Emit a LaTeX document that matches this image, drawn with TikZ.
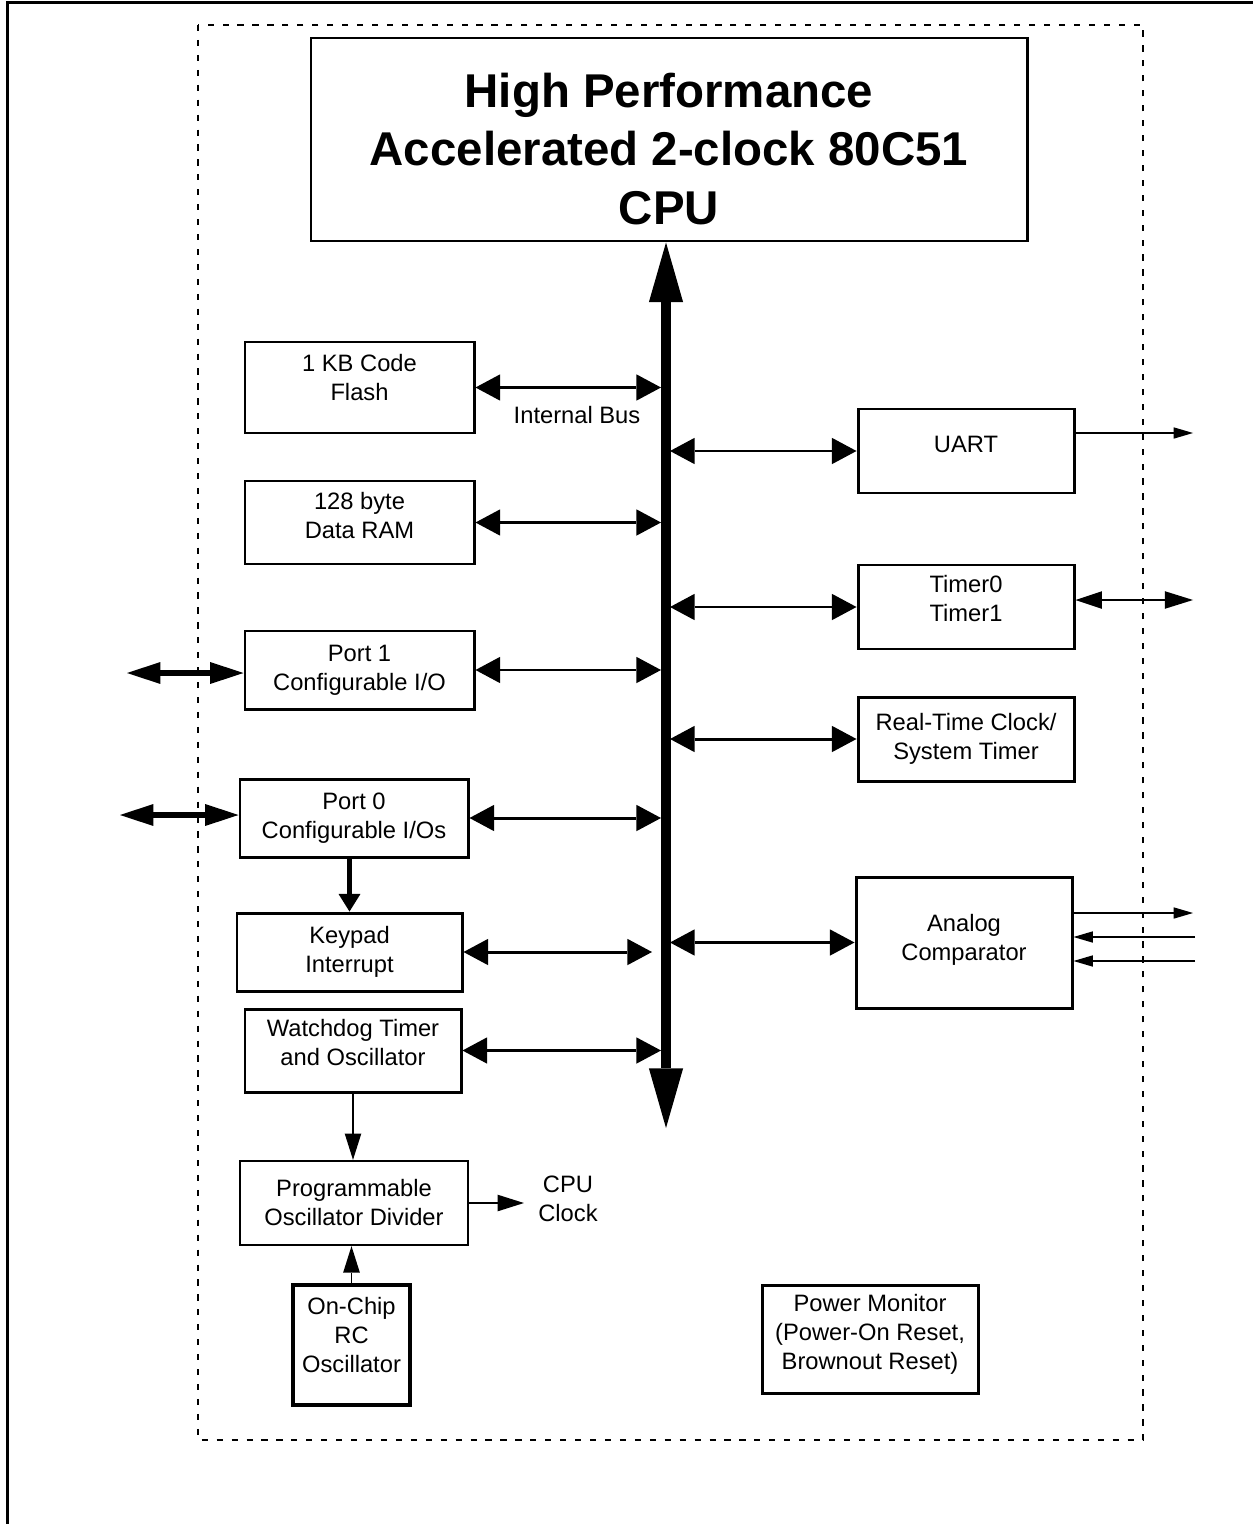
\documentclass[tikz,border=0pt]{standalone}
\usepackage{fontspec}
\setmainfont{Liberation Sans}
\usetikzlibrary{arrows.meta}

\begin{document}
\begin{tikzpicture}[x=0.02cm,y=-0.02cm]
\def \busx {666}
\useasboundingbox (0,0) rectangle (1253,1524);
   \tikzset{BlockStyle/.style = {draw, line width=1.7pt, align=center, inner sep=2pt,
      font=\fontsize{13.5}{16.5}\selectfont}}
   \tikzset{BlockSize/.style 2 args = {minimum width=#1*0.02cm, minimum height=#2*0.02cm}}
   \tikzset{BusStyle/.style = {line width=6pt,
      {Triangle[length=34pt,width=19.5pt,line width=0pt]}-{Triangle[length=34pt,width=19.5pt,line width=0pt]}}}
   \tikzset{BusLink/.style = {line width=1.7pt,
      {Triangle[length=14pt,width=15pt,line width=0pt]}-{Triangle[length=14pt,width=15pt,line width=0pt]}}}
   \tikzset{PortLink/.style = {line width=3.4pt,
      {Triangle[length=19pt,width=12.5pt,line width=0pt]}-{Triangle[length=19pt,width=12.5pt,line width=0pt]}}}
   \tikzset{KeyLink/.style = {line width=2.3pt, -{Triangle[length=10pt,width=12.5pt,line width=0pt]}}}
   \tikzset{ClkLink/.style = {line width=1.1pt, -{Triangle[length=15pt,width=9.5pt,line width=0pt]}}}
   \tikzset{PinOut/.style = {line width=1.1pt, -{Triangle[length=11pt,width=6.5pt,line width=0pt]}}}
   \tikzset{PinBoth/.style = {line width=1.1pt,
      {Triangle[length=15pt,width=10pt,line width=0pt]}-{Triangle[length=16pt,width=10pt,line width=0pt]}}}

% frame and chip outline
   \coordinate (frameTL) at (7.5,2.5);
   \coordinate (frameTR) at (1253,2.5);
   \coordinate (frameBL) at (7.5,1524);
   \draw[line width=1.7pt] (frameTR) -- (frameTL) -- (frameBL);
   \draw[line width=1.1pt, dash pattern=on 3.5pt off 5pt] (198,25) rectangle (1143,1440);

   \node[BlockStyle, BlockSize={716}{203}] (cpu) at (669,139.5) {};
   \node[font=\fontsize{27}{33.5}\selectfont\bfseries, align=center] (cputext) at (669,149)
      {High Performance\\Accelerated 2-clock 80C51\\CPU};

% left column
   \node[BlockStyle, BlockSize={229}{91}] (flash) at (359.5,387.5) {1 KB Code\\Flash\\[-5pt]};
   \node[BlockStyle, BlockSize={229}{83}] (ram) at (359.5,522.5) {128 byte\\Data RAM\\[-8.5pt]};
   \node[BlockStyle, BlockSize={229}{78}] (port1) at (359.5,670) {Port 1\\Configurable I/O};
   \node[BlockStyle, BlockSize={228}{78}] (port0) at (354,818) {Port 0\\Configurable I/Os};
   \node[BlockStyle, BlockSize={225}{78}] (keypad) at (349.5,952) {Keypad\\Interrupt};
   \node[BlockStyle, BlockSize={216}{83}] (wdt) at (353,1050.5) {Watchdog Timer\\and Oscillator\\[-7.5pt]};
   \node[BlockStyle, BlockSize={228}{84}, line width=1.3pt] (prog) at (354,1203) {Programmable\\Oscillator Divider};
   \node[BlockStyle, BlockSize={117}{120}, line width=2pt] (rc) at (351.5,1345) {On-Chip\\RC\\Oscillator\\[-5pt]};

% right column
   \node[BlockStyle, BlockSize={216}{84}] (uart) at (966,451) {UART\\[-8.5pt]};
   \node[BlockStyle, BlockSize={216}{84}] (timer) at (966,607) {Timer0\\Timer1\\[-6.5pt]};
   \node[BlockStyle, BlockSize={216}{84}] (rtc) at (966,739) {Real-Time Clock/\\System Timer};
   \node[BlockStyle, BlockSize={216}{131}] (comp) at (964,942.5) {Analog\\Comparator\\[-11pt]};
   \node[BlockStyle, BlockSize={216}{108}] (power) at (870,1339) {Power Monitor\\(Power-On Reset,\\Brownout Reset)\\[-8pt]};

   \node[font=\fontsize{13.5}{16.5}\selectfont] (busname) at (577,415) {Internal Bus};
   \node[font=\fontsize{13.5}{16.5}\selectfont, align=center, inner sep=8pt] (cpuclk) at (568,1199) {CPU\\Clock};

% internal bus
   \coordinate (busbot) at (\busx,1128);
   \coordinate (busL) at (\busx-5,0);
   \coordinate (busR) at (\busx+4,0);
   \coordinate (busgap) at (652,0);
   \draw[BusStyle] (cpu.south -| busbot) -- (busbot);

   \foreach \blk in {flash,ram,port1,port0,wdt}
      \draw[BusLink] (\blk.east) -- (\blk.east -| busL);
   \draw[BusLink] (keypad.east) -- (keypad.east -| busgap);
   \foreach \blk in {uart,timer,rtc,comp}
      \draw[BusLink] (\blk.west -| busR) -- (\blk.west);

% pins
   \coordinate (p1pin) at (127,673);
   \coordinate (p0pin) at (120,815);
   \draw[PortLink] (p1pin) -- (p1pin -| port1.west);
   \draw[PortLink] (p0pin) -- (p0pin -| port0.west);
   \coordinate (uartpin) at (1193,433);
   \coordinate (tmrpin) at (1193,600);
   \coordinate (cmpout) at (1193,913);
   \coordinate (cmpinA) at (1195,937);
   \coordinate (cmpinB) at (1195,961);
   \draw[PinOut] (uartpin -| uart.east) -- (uartpin);
   \draw[PinBoth] (tmrpin -| timer.east) -- (tmrpin);
   \draw[PinOut] (cmpout -| comp.east) -- (cmpout);
   \draw[PinOut] (cmpinA) -- (cmpinA -| comp.east);
   \draw[PinOut] (cmpinB) -- (cmpinB -| comp.east);

% clock path
   \draw[KeyLink] (keypad.north |- port0.south) -- (keypad.north);
   \draw[ClkLink] (wdt.south) -- (wdt.south |- prog.north);
   \draw[ClkLink] (rc.north) -- (rc.north |- prog.south);
   \draw[ClkLink] (prog.east) -- (prog.east -| cpuclk.west);
\end{tikzpicture}
\end{document}
